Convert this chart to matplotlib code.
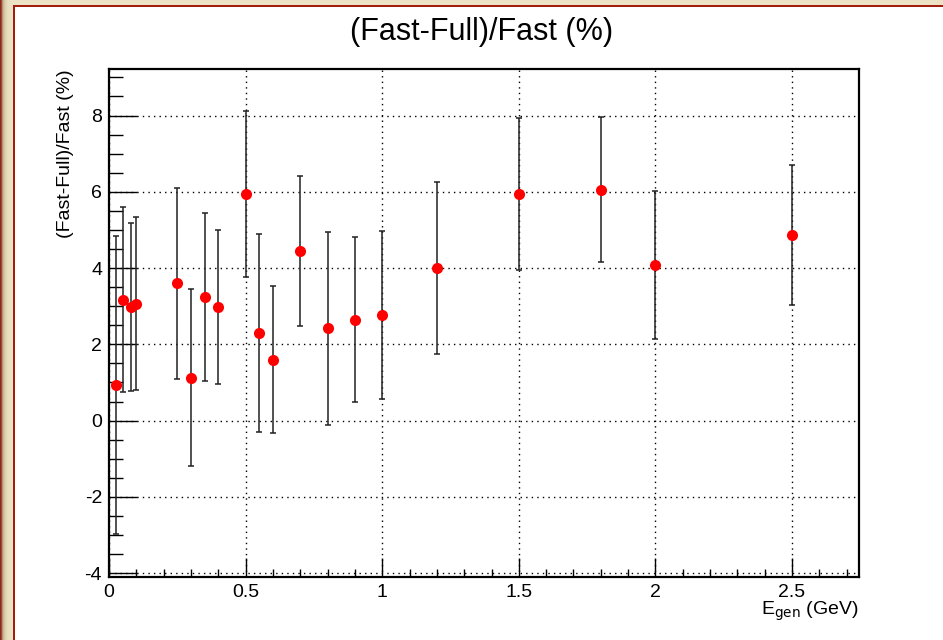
import matplotlib.pyplot as plt
from matplotlib.patches import Rectangle
from matplotlib.ticker import MultipleLocator
import numpy as np

# generated energy (GeV), relative difference (%) and its error
e_gen = [0.025, 0.05, 0.08, 0.10, 0.25, 0.30, 0.35, 0.40, 0.50, 0.55,
         0.60, 0.70, 0.80, 0.90, 1.00, 1.20, 1.50, 1.80, 2.00, 2.50]
diff = [0.93, 3.17, 2.98, 3.07, 3.60, 1.13, 3.24, 2.98, 5.94, 2.30,
        1.60, 4.45, 2.42, 2.65, 2.77, 4.00, 5.94, 6.05, 4.08, 4.87]
diff_err = [3.90, 2.42, 2.21, 2.26, 2.50, 2.33, 2.20, 2.03, 2.18, 2.60,
            1.92, 1.97, 2.53, 2.17, 2.20, 2.26, 2.00, 1.90, 1.93, 1.84]

plt.rcParams["font.family"] = ["Liberation Sans", "DejaVu Sans"]
plt.rcParams["axes.unicode_minus"] = False

fig = plt.figure(figsize=(9.43, 6.4), dpi=100)
W, H = 943.0, 640.0


def px_rect(x0, y0, w, h, color):
    # rectangle given in pixel coords from top-left of the image
    fig.patches.append(Rectangle((x0 / W, 1 - (y0 + h) / H), w / W, h / H,
                                 transform=fig.transFigure, color=color,
                                 zorder=-10, lw=0))


# beige/red canvas frame on the top and left
px_rect(0, 0, W, 5, "#ece2c4")
left_cols = ["#8a2a1c", "#a04a35", "#b98e74", "#c8b592", "#d4c6a2", "#dcd0ae",
             "#e2d7b6", "#e6dcbc", "#e8dfc0", "#e9e0c2", "#eae1c3", "#ebe2c4",
             "#ece3c5"]
for i, c in enumerate(left_cols):
    px_rect(i, 0, 1, H, c)
px_rect(13, 5, W - 13, 2, "#a31c0c")
px_rect(13, 5, 2, H - 5, "#a31c0c")

ax = fig.add_axes([109 / W, 1 - 577 / H, (859 - 109) / W, (577 - 69) / H])

ax.errorbar(e_gen, diff, yerr=diff_err, fmt="none", ecolor="#222222",
            elinewidth=1.1, capsize=2.5, capthick=1.1, zorder=2)
ax.plot(e_gen, diff, "o", color="#ff0000", markersize=8, zorder=3,
        markeredgewidth=0)

ax.set_xlim(0, 2.745)
ax.set_ylim(-4.1, 9.22)

ax.xaxis.set_major_locator(MultipleLocator(0.5))
ax.xaxis.set_minor_locator(MultipleLocator(0.1))
ax.yaxis.set_major_locator(MultipleLocator(2))
ax.yaxis.set_minor_locator(MultipleLocator(0.5))
ax.xaxis.set_major_formatter(plt.FuncFormatter(lambda v, p: f"{v:g}"))

ax.tick_params(axis="x", which="major", direction="in", length=14, width=1,
               labelsize=14, pad=5)
ax.tick_params(axis="x", which="minor", direction="in", length=6, width=1)
ax.tick_params(axis="y", which="major", direction="in", length=20, width=1,
               labelsize=14, pad=5)
ax.tick_params(axis="y", which="minor", direction="in", length=10, width=1)

for s in ax.spines.values():
    s.set_linewidth(1.6)
    s.set_color("black")

ax.grid(True, which="major", color="black", linestyle=(0, (1, 3)),
        linewidth=1.0)
ax.set_axisbelow(True)

fig.text(482 / W, 1 - 32 / H, "(Fast-Full)/Fast (%)",
         ha="center", va="center", fontsize=22)
ax.set_ylabel("(Fast-Full)/Fast (%)", fontsize=14, labelpad=0)
ax.yaxis.set_label_coords(-0.047, 1.0)
ax.yaxis.label.set_ha("right")
ax.set_xlabel(r"E$_{\mathrm{gen}}$ (GeV)", fontsize=14)
ax.xaxis.set_label_coords(1.0, -0.045)
ax.xaxis.label.set_ha("right")

fig.savefig("out.png", dpi=100)
